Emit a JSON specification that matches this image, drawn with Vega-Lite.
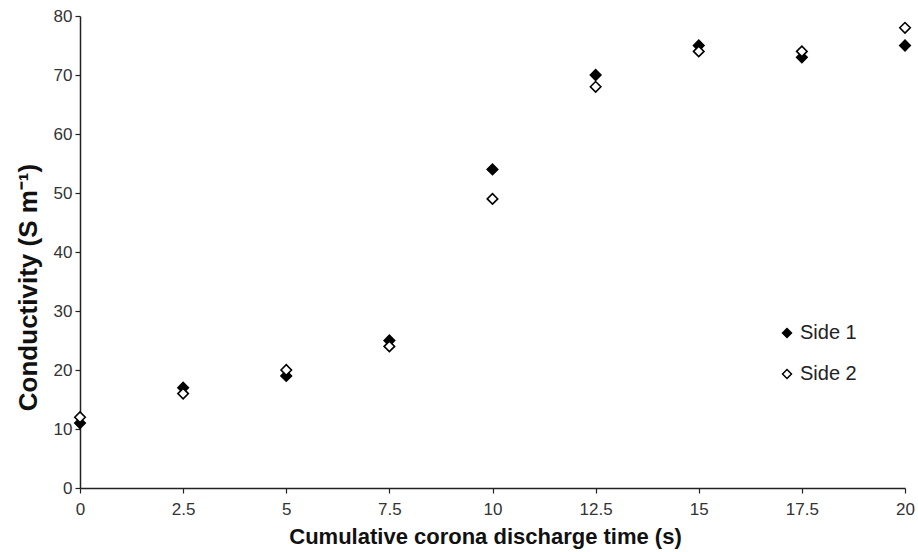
{
  "$schema": "https://vega.github.io/schema/vega-lite/v6.json",
  "width": 825,
  "height": 472,
  "autosize": "none",
  "padding": {"left": 80, "top": 16, "right": 13, "bottom": 64},
  "background": "white",
  "config": {
    "view": {"stroke": null},
    "font": "Liberation Sans",
    "axis": {"grid": false, "domainColor": "#222", "domainWidth": 1.5, "tickColor": "#222", "tickWidth": 1.2, "labelColor": "#333", "labelFont": "Liberation Sans", "labelFontSize": 17, "titleFont": "Liberation Sans", "titleFontWeight": "bold", "titleColor": "#111"}
  },
  "data": {
    "values": [
      {"t": 0, "c": 11, "side": "Side 1"},
      {"t": 2.5, "c": 17, "side": "Side 1"},
      {"t": 5, "c": 19, "side": "Side 1"},
      {"t": 7.5, "c": 25, "side": "Side 1"},
      {"t": 10, "c": 54, "side": "Side 1"},
      {"t": 12.5, "c": 70, "side": "Side 1"},
      {"t": 15, "c": 75, "side": "Side 1"},
      {"t": 17.5, "c": 73, "side": "Side 1"},
      {"t": 20, "c": 75, "side": "Side 1"},
      {"t": 0, "c": 12, "side": "Side 2"},
      {"t": 2.5, "c": 16, "side": "Side 2"},
      {"t": 5, "c": 20, "side": "Side 2"},
      {"t": 7.5, "c": 24, "side": "Side 2"},
      {"t": 10, "c": 49, "side": "Side 2"},
      {"t": 12.5, "c": 68, "side": "Side 2"},
      {"t": 15, "c": 74, "side": "Side 2"},
      {"t": 17.5, "c": 74, "side": "Side 2"},
      {"t": 20, "c": 78, "side": "Side 2"}
    ]
  },
  "mark": {"type": "point", "shape": "diamond", "filled": false, "stroke": "black", "strokeWidth": 1.6, "size": 110, "opacity": 1},
  "encoding": {
    "x": {"field": "t", "type": "quantitative", "scale": {"domain": [0, 20], "nice": false, "zero": true},
      "axis": {"title": "Cumulative corona discharge time (s)", "titleFontSize": 22, "titleX": 405, "format": ".1~f", "values": [0, 2.5, 5, 7.5, 10, 12.5, 15, 17.5, 20], "tickSize": 5, "labelPadding": 8, "titlePadding": 9, "labelFlush": false, "labelOverlap": false}},
    "y": {"field": "c", "type": "quantitative", "scale": {"domain": [0, 80], "nice": false},
      "axis": {"title": "Conductivity (S m⁻¹)", "titleFontSize": 26, "titleY": 271, "values": [0, 10, 20, 30, 40, 50, 60, 70, 80], "tickSize": 5, "labelPadding": 3, "titlePadding": 12}},
    "fill": {"field": "side", "type": "nominal", "scale": {"domain": ["Side 1", "Side 2"], "range": ["black", "white"]},
      "legend": {"title": null, "orient": "none", "legendX": 697, "legendY": 307, "symbolType": "diamond", "symbolStrokeColor": "black", "symbolStrokeWidth": 1.5, "symbolSize": 80, "labelFontSize": 20, "labelColor": "#222", "rowPadding": 21, "labelOffset": 3}}
  }
}
